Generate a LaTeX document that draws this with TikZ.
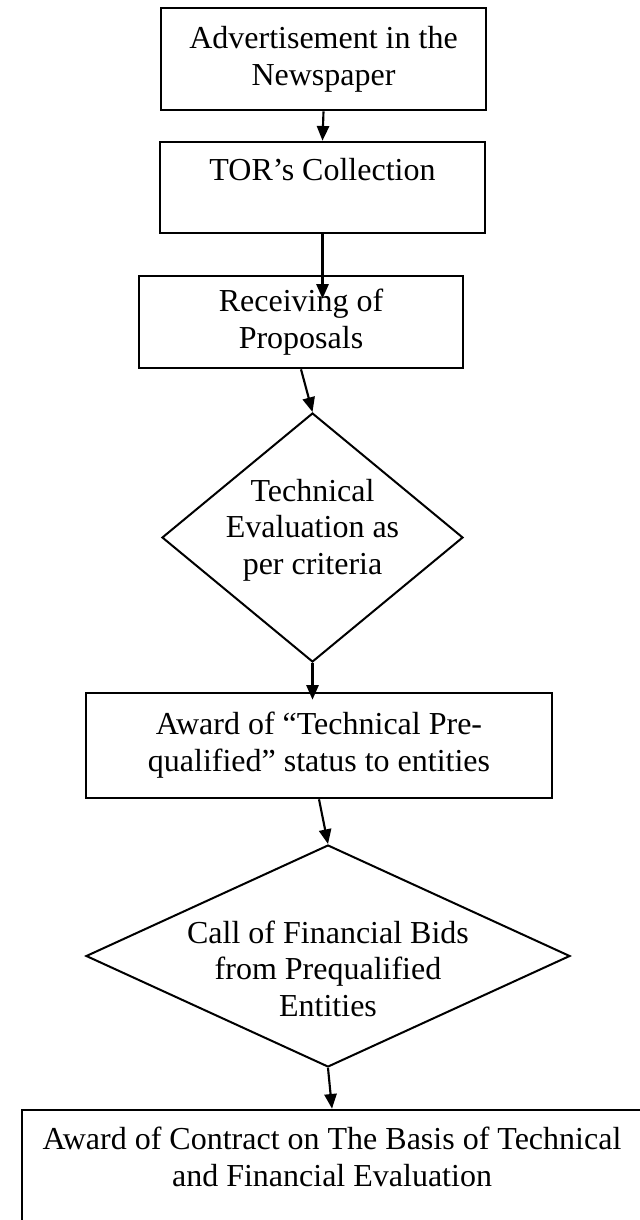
\documentclass[tikz,border=0pt]{standalone}
\usepackage{fontspec}
\setmainfont{Liberation Serif}
\usetikzlibrary{shapes.geometric,arrows.meta,calc}
\begin{document}
\begin{tikzpicture}[x=0.375pt,y=-0.375pt,
  every node/.style={font=\fontsize{12pt}{13.8pt}\selectfont, align=center},
  box/.style={draw, line width=1pt, rectangle, inner sep=0pt},
  dia/.style={draw, line width=0.75pt, diamond, inner sep=-40pt},
  arr/.style={line width=0.8pt, -{Triangle[length=5.5pt,width=4.6pt]}}]
\path[use as bounding box, clip] (0,0) rectangle (640,1220);
\fill[white] (0,0) rectangle (640,1220);

\node[box, minimum width=325*0.375pt, minimum height=102*0.375pt] (b1) at (323.5,59) {Advertisement in the\\Newspaper};
\node[box, minimum width=325*0.375pt, minimum height=91*0.375pt] (b2) at (322.5,187.5) {TOR’s Collection\\\mbox{}};
\node[box, minimum width=324*0.375pt, minimum height=92*0.375pt] (b3) at (301,322) {Receiving of\\Proposals};
\node[dia, minimum width=301*0.375pt, minimum height=249*0.375pt] (d1) at (312.5,537.5) {Technical\\Evaluation as\\per criteria\rule[-8pt]{0pt}{0pt}};
\node[box, minimum width=466*0.375pt, minimum height=105*0.375pt] (b4) at (319,745.5) {Award of “Technical Pre-\\qualified” status to entities};
\node[dia, minimum width=484*0.375pt, minimum height=222*0.375pt] (d2) at (328,956) {\rule{0pt}{18pt}Call of Financial Bids\\from Prequalified\\Entities};
\node[box, minimum width=620*0.375pt, minimum height=130*0.375pt] (b5) at (332,1175) {Award of Contract on The Basis of Technical\\and Financial Evaluation\rule[-14pt]{0pt}{0pt}};

\draw[arr] (b1.south) -- (b2.north);
\draw[arr] (b2.south) -- ($(b2.south |- b3.north)+(0,24)$);
\draw[arr] (b3.south) -- (d1.north);
\draw[arr] (d1.south) -- ($(d1.south |- b4.north)+(0,8)$);
\draw[arr] (b4.south) -- (d2.north);
\draw[arr] (d2.south) -- (b5.north);
\end{tikzpicture}
\end{document}
